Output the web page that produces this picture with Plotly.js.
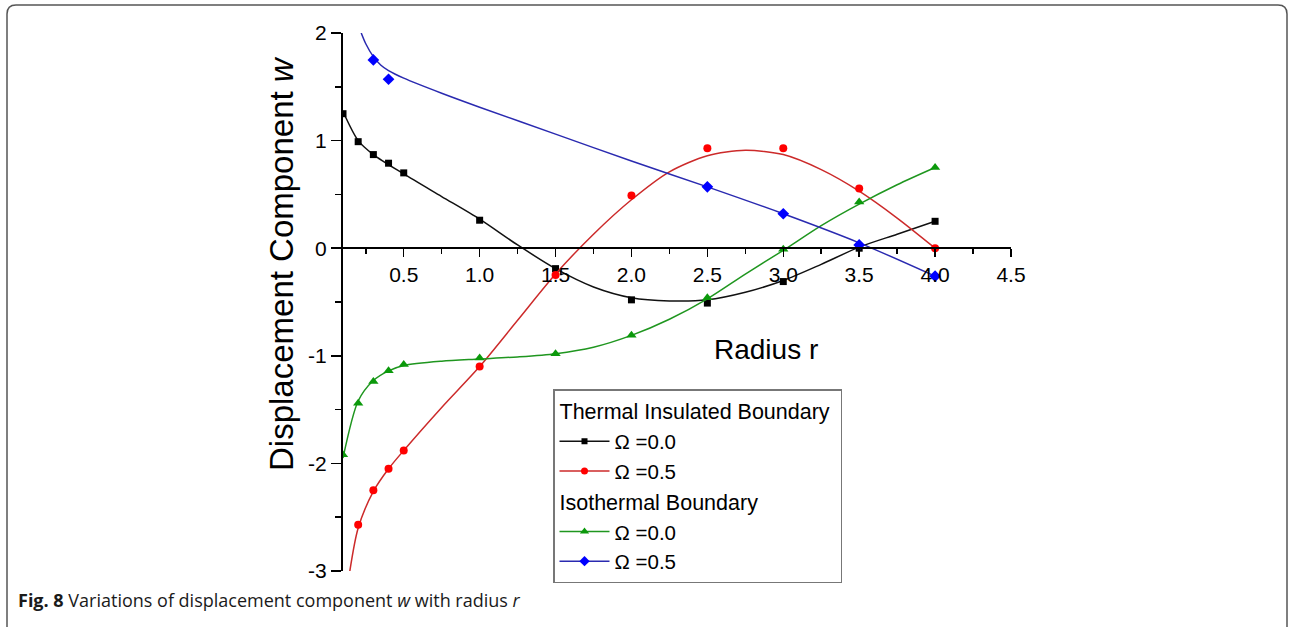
<!DOCTYPE html>
<html>
<head>
<meta charset="utf-8">
<script src="https://cdn.plot.ly/plotly-3.0.1.min.js"></script>
<style>html,body{margin:0;padding:0;background:#fff;}#chart{width:1291px;height:627px;}</style>
</head>
<body>
<div id="chart"></div>
<script>
// ---- Data ----
// Thermal insulated boundary, Omega = 0.0 (black squares)
const tiO0_x = [0.1, 0.2, 0.3, 0.4, 0.5, 1.0, 1.5, 2.0, 2.5, 3.0, 3.5, 4.0];
const tiO0_y = [1.25, 0.99, 0.87, 0.79, 0.70, 0.26, -0.19, -0.48, -0.51, -0.31, 0.0, 0.25];
const tiO0_fit_x = [0.1, 0.2, 0.3, 0.5, 0.75, 1.0, 1.25, 1.5, 1.75, 2.0, 2.25, 2.5, 2.75, 3.0, 3.25, 3.5, 3.75, 4.0];
const tiO0_fit_y = [1.27, 1.0, 0.87, 0.69, 0.48, 0.27, 0.03, -0.19, -0.36, -0.46, -0.49, -0.48, -0.41, -0.30, -0.15, 0.01, 0.13, 0.25];

// Thermal insulated boundary, Omega = 0.5 (red circles)
const tiO5_x = [0.2, 0.3, 0.4, 0.5, 1.0, 1.5, 2.0, 2.5, 3.0, 3.5, 4.0];
const tiO5_y = [-2.57, -2.25, -2.05, -1.88, -1.10, -0.25, 0.49, 0.93, 0.93, 0.555, 0.0];
const tiO5_fit_x = [0.145, 0.2, 0.3, 0.4, 0.5, 0.75, 1.0, 1.25, 1.5, 1.75, 2.0, 2.25, 2.5, 2.75, 3.0, 3.25, 3.5, 3.75, 4.0];
const tiO5_fit_y = [-3.0, -2.6, -2.26, -2.05, -1.88, -1.48, -1.10, -0.67, -0.24, 0.13, 0.45, 0.71, 0.86, 0.91, 0.87, 0.73, 0.53, 0.28, 0.0];

// Isothermal boundary, Omega = 0.0 (green triangles)
const isO0_x = [0.1, 0.2, 0.3, 0.4, 0.5, 1.0, 1.5, 2.0, 2.5, 3.0, 3.5, 4.0];
const isO0_y = [-1.92, -1.44, -1.24, -1.14, -1.08, -1.02, -0.98, -0.81, -0.46, -0.01, 0.43, 0.75];
const isO0_fit_x = [0.1, 0.2, 0.3, 0.4, 0.5, 0.75, 1.0, 1.25, 1.5, 1.75, 2.0, 2.25, 2.5, 2.75, 3.0, 3.25, 3.5, 3.75, 4.0];
const isO0_fit_y = [-1.95, -1.42, -1.23, -1.14, -1.09, -1.05, -1.03, -1.01, -0.98, -0.92, -0.81, -0.66, -0.47, -0.24, -0.02, 0.21, 0.41, 0.59, 0.75];

// Isothermal boundary, Omega = 0.5 (blue diamonds)
const isO5_x = [0.3, 0.4, 2.5, 3.0, 3.5, 4.0];
const isO5_y = [1.75, 1.57, 0.57, 0.32, 0.03, -0.26];
const isO5_fit_x = [0.22, 0.25, 0.3, 0.35, 0.4, 0.5, 0.75, 1.0, 1.5, 2.0, 2.5, 3.0, 3.5, 4.0];
const isO5_fit_y = [2.0, 1.9, 1.78, 1.70, 1.65, 1.58, 1.44, 1.31, 1.06, 0.81, 0.57, 0.32, 0.05, -0.26];

const groupTitles = ['Thermal Insulated Boundary', 'Isothermal Boundary'];
const seriesNames = ['\u03A9 =0.0', '\u03A9 =0.5'];
const xTickVals = [0.5, 1.0, 1.5, 2.0, 2.5, 3.0, 3.5, 4.0, 4.5];
const xTickText = ['0.5', '1.0', '1.5', '2.0', '2.5', '3.0', '3.5', '4.0', '4.5'];
const yTickVals = [-3, -2, -1, 0, 1, 2];
const yTickText = ['-3', '-2', '-1', '0', '1', '2'];
const xTitle = 'Radius r';
const yTitle = 'Displacement Component <i>w</i>';
const caption = '<b>Fig. 8</b> Variations of displacement component <i>w</i> with radius <i>r</i>';

// ---- Layout geometry (pixels) ----
const W = 1291, H = 627;
const PL = 343, PR = 1011, PT = 33, PB = 571;
const px = v => (v - PL) / (PR - PL);
const py = v => (PB - v) / (PB - PT);
const SANS = 'Liberation Sans';
const CAP = 'Open Sans';

const styles = [
  {line: '#111111', mk: '#000000', sym: 'square', size: 7},
  {line: '#cc2a2a', mk: '#ff0000', sym: 'circle', size: 8},
  {line: '#1f961f', mk: '#0b990b', sym: 'triangle-up', size: 9},
  {line: '#2a2ab0', mk: '#0000ff', sym: 'diamond', size: 9}
];
const sets = [
  [tiO0_x, tiO0_y, tiO0_fit_x, tiO0_fit_y],
  [tiO5_x, tiO5_y, tiO5_fit_x, tiO5_fit_y],
  [isO0_x, isO0_y, isO0_fit_x, isO0_fit_y],
  [isO5_x, isO5_y, isO5_fit_x, isO5_fit_y]
];

const traces = [];
sets.forEach((s, i) => {
  const st = styles[i];
  traces.push({x: s[2], y: s[3], mode: 'lines', line: {color: st.line, width: 1.5, shape: 'spline', smoothing: 0.8},
    showlegend: false, hoverinfo: 'skip'});
  traces.push({x: s[0], y: s[1], mode: 'markers', marker: {color: st.mk, symbol: st.sym, size: st.size},
    showlegend: false});
});
// legend entries
sets.forEach((s, i) => {
  const st = styles[i];
  const g = Math.floor(i / 2);
  const t = {x: [null], y: [null], mode: 'lines+markers', name: seriesNames[i % 2],
    legendgroup: 'g' + g,
    line: {color: st.line, width: 1.5}, marker: {color: st.mk, symbol: st.sym, size: st.size - 1}};
  if (i % 2 === 0) t.legendgrouptitle = {text: groupTitles[g], font: {family: SANS, size: 21.5, color: '#000'}};
  traces.push(t);
});

// frame path with rounded corners
const fx0 = 7, fx1 = 1287, fy0 = 5, fy1 = 660, r = 9;
const rx = r / (PR - PL), ry = r / (PB - PT);
const framePath = `M ${px(fx0)},${py(fy1)} L ${px(fx0)},${py(fy0) - ry} Q ${px(fx0)},${py(fy0)} ${px(fx0) + rx},${py(fy0)} ` +
  `L ${px(fx1) - rx},${py(fy0)} Q ${px(fx1)},${py(fy0)} ${px(fx1)},${py(fy0) - ry} L ${px(fx1)},${py(fy1)}`;

const layout = {
  width: W, height: H,
  margin: {l: PL, r: W - PR, t: PT, b: H - PB, pad: 0},
  paper_bgcolor: '#fff', plot_bgcolor: 'rgba(0,0,0,0)',
  font: {family: SANS, color: '#000', size: 20},
  showlegend: true,
  legend: {
    x: px(553), y: py(389), xanchor: 'left', yanchor: 'top',
    bgcolor: '#fff', bordercolor: '#777', borderwidth: 1.5,
    font: {family: SANS, size: 20.5, color: '#000'}, itemwidth: 50, tracegroupgap: 0, traceorder: 'grouped'
  },
  xaxis: {
    range: [0.1, 4.5], anchor: 'free', position: 0.6,
    showline: true, linecolor: '#000', linewidth: 2,
    showgrid: false, zeroline: false,
    ticks: 'outside', ticklen: 8, tickwidth: 1.5, tickcolor: '#000',
    tickvals: xTickVals, ticktext: xTickText, tickfont: {family: SANS, size: 21, color: '#000'},
    minor: {ticks: 'outside', ticklen: 5, tickwidth: 1.5, tickcolor: '#000', dtick: 0.25, tick0: 0.25, showgrid: false}
  },
  yaxis: {
    range: [-3, 2],
    showline: true, linecolor: '#000', linewidth: 2,
    showgrid: false, zeroline: false,
    ticks: 'outside', ticklen: 10, tickwidth: 1.5, tickcolor: '#000',
    tickvals: yTickVals, ticktext: yTickText, tickfont: {family: SANS, size: 21, color: '#000'},
    minor: {ticks: 'outside', ticklen: 6, tickwidth: 1.5, tickcolor: '#000', dtick: 0.5, tick0: 0.5, showgrid: false}
  },
  annotations: [
    {text: xTitle, xref: 'paper', yref: 'paper', x: px(766), y: py(349), xanchor: 'center', yanchor: 'middle',
      showarrow: false, font: {family: SANS, size: 28, color: '#000'}},
    {text: yTitle, xref: 'paper', yref: 'paper', x: px(281), y: py(264), xanchor: 'center', yanchor: 'middle',
      textangle: -90, showarrow: false, font: {family: SANS, size: 33, color: '#000'}},
    {text: caption, xref: 'paper', yref: 'paper', x: px(16), y: py(600), xanchor: 'left', yanchor: 'middle',
      showarrow: false, font: {family: CAP, size: 18, color: '#1a1a1a'}}
  ],
  shapes: [
    {type: 'path', xref: 'paper', yref: 'paper', path: framePath, line: {color: '#555', width: 1.5}, layer: 'below'}
  ]
};

Plotly.newPlot('chart', traces, layout, {displayModeBar: false, staticPlot: true});
</script>
</body>
</html>
